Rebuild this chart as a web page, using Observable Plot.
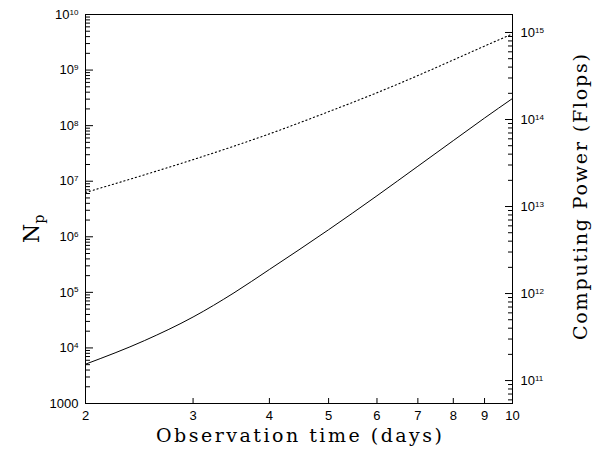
<!DOCTYPE html>
<html><head><meta charset="utf-8">
<script src="https://cdn.jsdelivr.net/npm/d3@7"></script>
<script src="https://cdn.jsdelivr.net/npm/@observablehq/plot@0.6"></script>
<style>body{margin:0;background:#fff}</style>
</head><body><div id="chart"></div>
<script>
// ---- data ----
const days  = [2, 2.5, 3, 3.5, 4, 5, 6, 7, 8, 9, 10];
const np    = [5100, 13600, 36000, 9.8e4, 2.58e5, 1.34e6, 5.47e6, 1.86e7, 5.38e7, 1.37e8, 3.08e8];
const flops = [1.45e13, 2.32e13, 3.46e13, 4.94e13, 6.84e13, 1.23e14, 2.03e14, 3.2e14, 4.84e14, 6.98e14, 9.64e14];
const xTicks = [2, 3, 4, 5, 6, 7, 8, 9, 10];
const leftExps = [3, 4, 5, 6, 7, 8, 9, 10];
const rightExps = [11, 12, 13, 14, 15];
const leftDomain = [1000, 1e10];
const rightDomain = [5.45e10, 1.61e15];
const xLabel = "Observation time (days)";
const yLabel = "N_p";
const y2Label = "Computing Power (Flops)";

// right-axis (Flops) value -> position on the left (Np) log scale
const L0 = Math.log10(leftDomain[0]), L1 = Math.log10(leftDomain[1]);
const R0 = Math.log10(rightDomain[0]), R1 = Math.log10(rightDomain[1]);
const toLeft = v => 10 ** (L0 + (Math.log10(v) - R0) * (L1 - L0) / (R1 - R0));

const leftMajor = leftExps.map(e => 10 ** e);
const leftMinor = [];
for (const e of leftExps.slice(0, -1)) for (let m = 2; m <= 9; m++) leftMinor.push(m * 10 ** e);
const rightMajor = rightExps.map(e => 10 ** e);
const rightMinor = [];
for (let e = 10; e <= 15; e++) for (let m = 2; m <= 9; m++) {
  const v = m * 10 ** e;
  if (v >= rightDomain[0] && v <= rightDomain[1]) rightMinor.push(v);
}

const solid = days.map((d, i) => ({d, v: np[i]}));
const dotted = days.map((d, i) => ({d, v: toLeft(flops[i])}));

const sans = "'Liberation Sans', Helvetica, Arial, sans-serif";
const serif = "'DejaVu Serif', 'Liberation Serif', serif";

const chart = Plot.plot({
  width: 595, height: 450,
  marginLeft: 85, marginRight: 83, marginTop: 14, marginBottom: 47,
  x: {type: "log", domain: [2, 10]},
  y: {type: "log", domain: leftDomain},
  style: {fontFamily: sans, fontSize: "13px", color: "black", background: "white"},
  marks: [
    Plot.frame({stroke: "black", strokeWidth: 1}),
    // left axis
    Plot.axisY({anchor: "left", ticks: leftMinor, tickSize: -5, fill: "none", label: null}),
    Plot.axisY({anchor: "left", ticks: leftMajor, tickSize: -8, fill: "none", label: null}),
    Plot.text(leftExps, {y: e => 10 ** e, text: e => e === 3 ? "1000" : "10^" + e,
      frameAnchor: "left", dx: -7, textAnchor: "end", fontSize: 13, fill: "black"}),
    // right axis
    Plot.axisY({anchor: "right", ticks: rightMinor.map(toLeft), tickSize: -5, fill: "none", label: null}),
    Plot.axisY({anchor: "right", ticks: rightMajor.map(toLeft), tickSize: -8, fill: "none", label: null}),
    Plot.text(rightExps, {y: e => toLeft(10 ** e), text: e => "10^" + e,
      frameAnchor: "right", dx: 8, textAnchor: "start", fontSize: 13, fill: "black"}),
    // bottom axis
    Plot.axisX({anchor: "bottom", ticks: xTicks, tickSize: -5, fill: "none", label: null}),
    Plot.text(xTicks, {x: d => d, text: d => String(d), frameAnchor: "bottom", dy: 16, fontSize: 13, fill: "black"}),
    // curves
    Plot.line(solid, {x: "d", y: "v", stroke: "black", strokeWidth: 1, curve: "monotone-x"}),
    Plot.line(dotted, {x: "d", y: "v", stroke: "black", strokeWidth: 1.1, strokeDasharray: "1.2,2.8", curve: "monotone-x"}),
    // titles
    Plot.text([xLabel], {text: d => d, frameAnchor: "bottom", dy: 38, fontFamily: serif, fontSize: 19, fill: "black"}),
    Plot.text([yLabel], {text: d => d, frameAnchor: "left", dx: -54, dy: 34, rotate: -90, fontFamily: serif, fontSize: 22, fill: "black"}),
    Plot.text([y2Label], {text: d => d, frameAnchor: "right", dx: 68, dy: -12, rotate: -90, fontFamily: serif, fontSize: 19, fill: "black"})
  ]
});
document.getElementById("chart").append(chart);

// typographic post-processing: superscripts / subscripts / label spacing
d3.select(chart).selectAll("text").each(function() {
  const t = d3.select(this);
  const s = this.textContent;
  if (s.includes("^")) {
    const [b, e] = s.split("^");
    t.text(null);
    t.append("tspan").text(b);
    t.append("tspan").attr("dy", "-0.5em").attr("font-size", "0.62em").text(e);
  } else if (s === yLabel) {
    const [b, e] = s.split("_");
    t.text(null);
    t.append("tspan").text(b);
    t.append("tspan").attr("dy", "0.35em").attr("font-size", "0.65em").text(e);
  } else if (s === xLabel || s === y2Label) {
    const L = 286;
    t.attr("text-anchor", "start").attr("x", -L / 2)
     .attr("textLength", L).attr("lengthAdjust", "spacing");
  }
});
</script>
</body></html>
